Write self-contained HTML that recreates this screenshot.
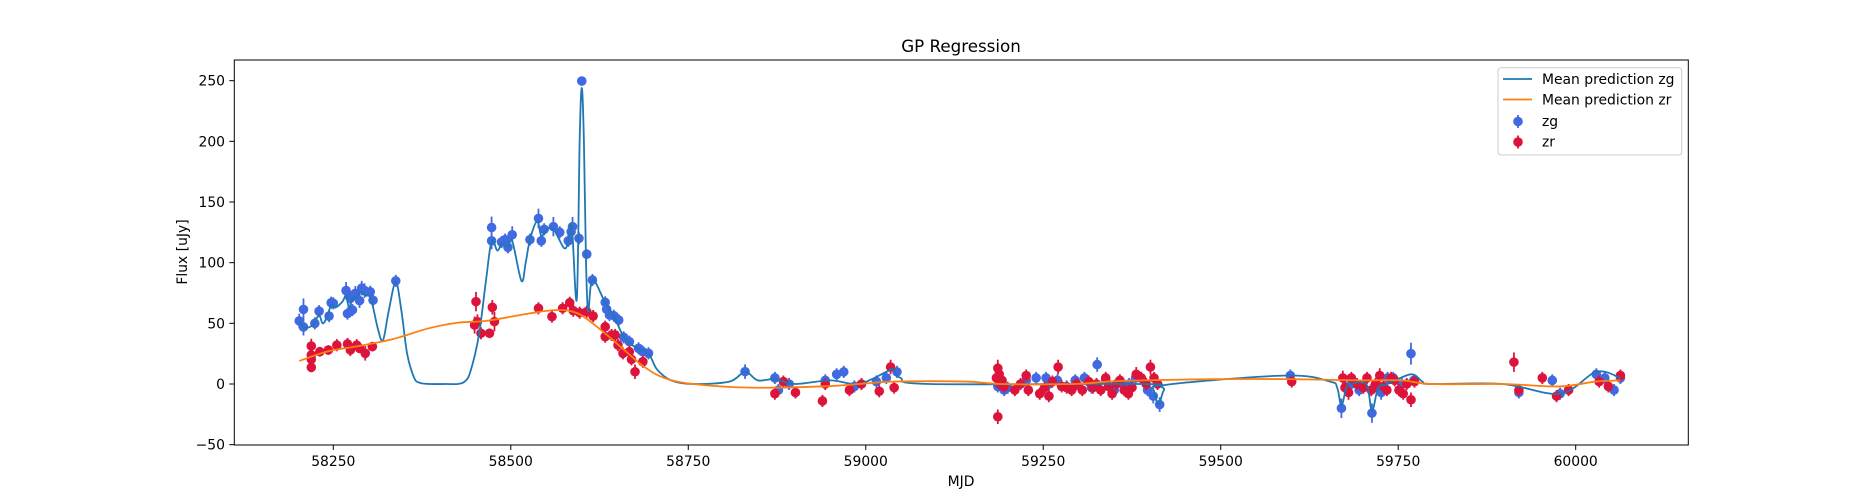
<!DOCTYPE html>
<html><head><meta charset="utf-8"><style>
body{margin:0;background:#fff;}
svg{display:block;font-family:"DejaVu Sans","Liberation Sans",sans-serif;}
</style></head><body>
<svg id="chart" width="1875" height="500" viewBox="0 0 1875 500" xmlns="http://www.w3.org/2000/svg">
<rect width="1875" height="500" fill="#fff"/>
<text x="961" y="52" text-anchor="middle" font-size="16.7">GP Regression</text>
<text x="961" y="486" text-anchor="middle" font-size="13.9">MJD</text>
<text transform="translate(187,252) rotate(-90)" text-anchor="middle" font-size="13.9">Flux [uJy]</text>
<g id="plot"></g>
<rect x="234.3" y="60" width="1454" height="385" fill="none" stroke="#000" stroke-width="1"/>
<g id="axes"></g>
<g>
<rect x="1498" y="67.7" width="183.7" height="87.3" rx="3" fill="#fff" fill-opacity="0.8" stroke="#ccc" stroke-width="1"/>
<line x1="1503" y1="79" x2="1532" y2="79" stroke="#1f77b4" stroke-width="1.8"/>
<text x="1542" y="84" font-size="13.9">Mean prediction zg</text>
<line x1="1503" y1="99.5" x2="1532" y2="99.5" stroke="#ff7f0e" stroke-width="1.8"/>
<text x="1542" y="104.5" font-size="13.9">Mean prediction zr</text>
<line x1="1518" y1="115" x2="1518" y2="128" stroke="#4169e1" stroke-width="1.8"/>
<circle cx="1518" cy="121.5" r="4.8" fill="#4169e1"/>
<text x="1542" y="126" font-size="13.9">zg</text>
<line x1="1518" y1="135.5" x2="1518" y2="148.5" stroke="#dc143c" stroke-width="1.8"/>
<circle cx="1518" cy="142" r="4.8" fill="#dc143c"/>
<text x="1542" y="146.5" font-size="13.9">zr</text>
</g>
</svg>
<script>
const xTicks=[58250,58500,58750,59000,59250,59500,59750,60000];
const yTicks=[-50,0,50,100,150,200,250];
const zgMjd=[58202,58208,58208,58224,58230,58244,58247,58250,58268,58270,58274,58277,58281,58287,58290,58294,58302,58306,58338,
58473,58473,58487,58492,58496,58502,58527,58539,58543,58547,58560,58569,58581,58585,58587,58596,58600,58607,58615,
58633,58635,58639,58645,58652,58659,58667,58680,58686,58694,58830,
58872,58877,58892,58943,58959,58969,58984,59015,59029,59044,
59186,59195,59200,59226,59240,59254,59258,59270,59283,59295,59308,59318,59326,59338,59350,59362,59371,59380,59388,59397,59405,59414,
59598,59670,59676,59684,59695,59713,59720,59726,59735,59743,59755,59768,59772,
59920,59967,59978,60029,60041,60054,60063];
const zgFlux=[52,61.5,47,50,60,56,67,66.5,77,58,70.6,61,74.7,68.7,79,77,76,69,85,
129,118,117,119,112.6,123,119,136.5,118,127.5,129.7,125,118,125.5,129.7,120,249.7,107,85.7,
67.3,61.6,56.9,56.3,52.7,38.5,34.9,29.4,26.6,25.3,10.2,
5,-5,0,3,8,10,-2,2,5,10,
-2,-5,-3,3,5,5,0,3,-2,3,5,-3,16,3,-5,0,0,5,5,-5,-10,-17,
7,-20,-3,0,-5,-24,-3,-7,5,5,0,25,3,
-7,3,-8,8,5,-5,5];
const zgErr=[6,9,7,5,5,5,5,5,7,5,6,5,6,6,6,6,5,5,5,
9,7,5,5,5,7,5,8,5,5,8,5,5,5,8,5,3,4,5,
5,5,5,5,5,5,5,5,5,5,6,
5,5,5,5,5,5,5,5,5,5,
5,5,5,5,5,5,5,5,5,5,5,5,6,5,5,5,5,5,5,5,6,6,
5,8,6,5,5,8,5,6,5,5,5,9,5,
5,5,5,5,5,5,5];
const zrMjd=[58219,58219,58219,58219,58231,58243,58255,58270,58274,58283,58287,58295,58305,
58449,58451,58453,58458,58470,58474,58477,58539,58558,58573,58583,58588,58597,58607,58616,58633,58633,58642,58647,58651,58658,58667,58670,58675,58686,
58872,58884,58901,58939,58943,58977,58994,59019,59035,59040,
59184,59186,59186,59188,59189,59192,59195,59210,59218,59226,59229,59245,59252,59258,59263,59271,59276,59283,59290,59297,59305,59314,59320,59325,59331,59338,59342,59347,59353,59358,59364,59370,59375,59381,59388,59395,59401,59406,59411,
59600,59672,59675,59680,59684,59692,59701,59706,59712,59718,59724,59729,59734,59740,59745,59751,59757,59762,59768,59773,
59913,59920,59953,59973,59990,60033,60046,60063];
const zrFlux=[31.3,23.9,20.3,13.7,26.6,28,32,33,28,32,29.4,25.3,30.8,
48.6,67.9,51.4,41.8,41.8,63.2,51.4,62.4,55.5,62.4,67,60.4,58.8,59.6,56,47.2,39,40.4,40.4,32.1,25.3,26.6,20.3,10.1,18.4,
-8,2,-7,-14,0,-5,0,-6,14,-3,
5,-27,13,8,0,3,-2,-5,0,7,-5,-8,-3,-10,2,14,-2,-3,-5,0,-5,2,-3,0,-5,5,-2,-8,0,3,-5,-8,-3,8,5,0,14,5,0,
2,5,-3,-7,5,0,-3,5,-5,0,7,-2,-5,5,3,-5,-8,0,-13,2,
18,-5,5,-10,-5,2,-2,7];
const zrErr=[6,5,5,4,4,4,5,5,5,5,4,6,4,
7,8,6,5,4,6,8,5,5,5,5,5,5,5,5,5,5,5,5,5,5,5,5,6,5,
5,5,5,5,5,5,5,5,6,5,
5,6,7,5,5,5,5,5,5,5,5,5,5,5,5,6,5,5,5,5,5,5,5,5,5,5,5,5,5,5,5,5,5,6,5,5,6,5,5,
5,6,5,6,5,5,5,5,5,5,6,5,5,5,5,5,5,5,6,5,
8,5,5,5,5,5,5,5];
const zgCurveMjd=[58202,58208,58217,58224,58230,58235,58241,58247,58253,58263,58268,58272,58277,58283,58289,58295,58303,58313,58320,58328,58338,58346,58354,58364,58372,58385,58410,58425,58435,58443,58455,58465,58473,58481,58488,58496,58502,58515,58521,58527,58537,58543,58550,58560,58575,58581,58586,58593,58597,58600,58603,58606,58609,58615,58633,58646,58659,58676,58694,58706,58726,58757,58808,58830,58848,58872,58900,58950,58990,59029,59039,59049,59090,59392,59404,59412,59420,59432,59594,59654,59664,59670,59677,59684,59705,59713,59722,59735,59768,59784,59796,59897,59978,60029,60063];
const zgCurveFlux=[52,47,47,51,57,50,55,65,63,68,73,63,70,72,76,73,70,45,36,60,84,60,25,5,1,0,0,0,2,10,40,85,118,110,116,113,118,85,100,119,134,122,127,128,112,118,130,70,200,244,200,100,60,86,67,55,39,30,25,12,3,0,2,10,3,4,0,3,0,10,12,5,0,0,-3,-17,-5,0,7,2,-3,-18,-3,0,0,-22,-3,0,8,2,0,0,-8,10,5];
const zrCurveMjd=[58202,58243,58283,58334,58385,58425,58465,58525,58565,58595,58626,58656,58686,58716,58757,58838,58939,58990,59040,59141,59191,59292,59342,59392,59493,59594,59695,59755,59796,59897,59977,60028,60063];
const zrCurveFlux=[19,27,31,37,46,50.5,52,58,61,58,45,30,15,5,0,-3,-2,0,2,2,0,0,2,3,4,4,3,3,0,0,-2,2,3];

const X0=58250,PX0=333.3,KX=0.70994;
function sx(m){return PX0+(m-X0)*KX;}
function sy(f){return 384-f*1.2133;}
const NS='http://www.w3.org/2000/svg';
function mk(tag,attrs,parent){const e=document.createElementNS(NS,tag);for(const k in attrs)e.setAttribute(k,attrs[k]);parent.appendChild(e);return e;}
const axes=document.getElementById('axes'),plot=document.getElementById('plot');
xTicks.forEach(t=>{const x=sx(t);
 const l=mk('line',{x1:x,y1:445,x2:x,y2:450,stroke:'#000','stroke-width':1},axes);
 
 
 const tx=mk('text',{x:x,y:466,'text-anchor':'middle','font-size':13.9},axes);tx.textContent=t;
 
 });
yTicks.forEach(t=>{const y=sy(t);
 const l=mk('line',{x1:229.3,y1:y,x2:234.3,y2:y,stroke:'#000','stroke-width':1},axes);
 
 
 const tx=mk('text',{x:225,y:y+5,'text-anchor':'end','font-size':13.9},axes);tx.textContent=(t<0?'\u2212'+(-t):t);
 
 });
function spline(xs,ys){const p=xs.map((m,i)=>[sx(m),sy(ys[i])]);let d='M'+p[0][0]+','+p[0][1];
 for(let i=0;i<p.length-1;i++){const p0=p[i-1]||p[i],p1=p[i],p2=p[i+1],p3=p[i+2]||p2;
  const c1=[p1[0]+(p2[0]-p0[0])/6,p1[1]+(p2[1]-p0[1])/6],c2=[p2[0]-(p3[0]-p1[0])/6,p2[1]-(p3[1]-p1[1])/6];
  d+=' C'+c1[0]+','+c1[1]+' '+c2[0]+','+c2[1]+' '+p2[0]+','+p2[1];}
 return d;}
function points(xs,ys,es,col,name){const g=mk('g',{},plot);
 
 
 xs.forEach((m,i)=>{const x=sx(m),y=sy(ys[i]),e=es[i]*1.2133;
  const l=mk('line',{x1:x,y1:y-e,x2:x,y2:y+e,stroke:col,'stroke-width':1.8},g);
  
  
  const c=mk('circle',{cx:x,cy:y,r:4.8,fill:col},g);
  
  });}
const cp=mk('clipPath',{id:'clip'},document.getElementById('chart'));mk('rect',{x:234.3,y:60,width:1454,height:385},cp);
points(zgMjd,zgFlux,zgErr,'#4169e1','zg');
points(zrMjd,zrFlux,zrErr,'#dc143c','zr');
const lg=mk('path',{d:spline(zgCurveMjd,zgCurveFlux),fill:'none',stroke:'#1f77b4','stroke-width':1.8,'clip-path':'url(#clip)'},plot);


const lr=mk('path',{d:spline(zrCurveMjd,zrCurveFlux),fill:'none',stroke:'#ff7f0e','stroke-width':1.8,'clip-path':'url(#clip)'},plot);


</script>
</body></html>
